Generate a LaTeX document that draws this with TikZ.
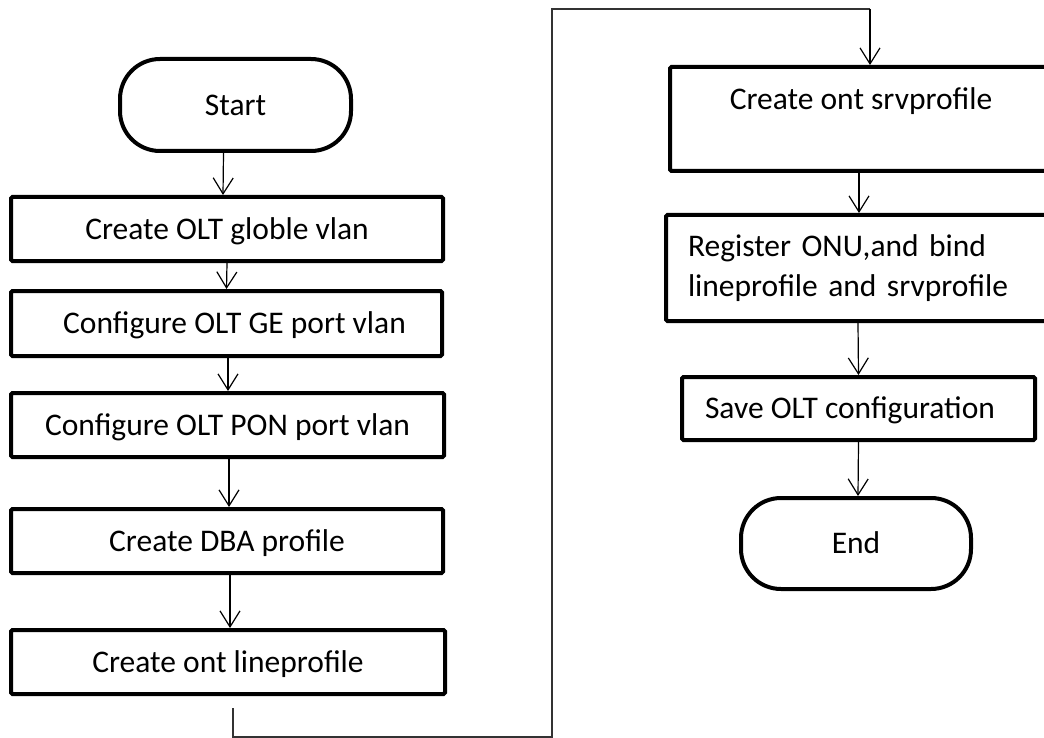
\documentclass[tikz,border=0pt]{standalone}
\usepackage{fontspec}
\setmainfont{Carlito}
\usetikzlibrary{arrows.meta}
\begin{document}
\begin{tikzpicture}[x=1pt,y=-1pt,
  every node/.style={font=\fontsize{31.5}{40}\selectfont},
  stepbox/.style={draw, line width=4pt, rounded corners=1.5pt, inner sep=0pt,
    text height=28.2pt, text depth=7.9pt},
  termbox/.style={draw, line width=4pt, rounded corners=40pt, inner sep=0pt,
    text height=28.2pt, text depth=7.9pt},
  arr/.style={line width=1.2pt, -{Straight Barb[length=16pt,width=20pt,line width=1.2pt]}},
  loopline/.style={line width=1.1pt, black!80}]
\useasboundingbox (0,0) rectangle (1044,738);
\fill[white] (0,0) rectangle (1044,738);
\clip (0,0) rectangle (1044,738);

% left column
\node[termbox, minimum width=231pt, minimum height=92pt] (start) at (235.5,105) {Start};
\node[stepbox, minimum width=432pt, minimum height=64pt] (b1) at (227,229) {Create OLT globle vlan};
\node[stepbox, minimum width=431pt, minimum height=65pt] (b2) at (226.5,323.5) {\hspace*{16pt}Configure OLT GE port vlan};
\node[stepbox, minimum width=433pt, minimum height=64pt] (b3) at (227.5,425) {Configure OLT PON port vlan};
\node[stepbox, minimum width=432pt, minimum height=64pt] (b4) at (227,541) {Create DBA profile};
\node[stepbox, minimum width=434pt, minimum height=64pt] (b5) at (228,662) {Create ont lineprofile};

% right column
\node[stepbox, minimum width=382pt, minimum height=104pt, text height=28.2pt, text depth=46.2pt] (b6) at (861,119) {Create ont srvprofile};
\node[draw, line width=4pt, rounded corners=1.5pt, inner xsep=22pt, inner ysep=0pt,
  minimum width=386pt, minimum height=106pt, align=left, text width=342pt] (b7) at (859,268)
  {Register ONU,and bind\\lineprofile and srvprofile};
\node[stepbox, minimum width=353pt, minimum height=63pt] (b8) at (858.5,408.5) {Save OLT configuration\hspace*{17pt}};
\node[termbox, minimum width=230pt, minimum height=91pt] (end) at (856,543.5) {End};

% connectors
\draw[arr] ([xshift=-12pt]start.south) -- ([xshift=-4pt]b1.north);
\draw[arr] (b1.south) -- (b2.north);
\draw[arr] ([xshift=1.5pt]b2.south) -- ([xshift=0.5pt]b3.north);
\draw[arr] ([xshift=1.5pt]b3.south) -- ([xshift=2pt]b4.north);
\draw[arr] ([xshift=3pt]b4.south) -- ([xshift=2pt]b5.north);

\coordinate (l0) at (233,708);
\coordinate (l1) at (233,737);
\coordinate (l2) at (552,737);
\coordinate (l3) at (552,9);
\coordinate (l4) at (870,9);
\draw[loopline] (l0) -- (l1) -- (l2) -- (l3) -- (l4);
\draw[arr] (l4) -- ([xshift=9pt]b6.north);

\draw[arr] ([xshift=-2pt]b6.south) -- (b7.north);
\draw[arr] ([xshift=-1pt]b7.south) -- (b8.north);
\draw[arr] (b8.south) -- ([xshift=2pt]end.north);
\end{tikzpicture}
\end{document}
